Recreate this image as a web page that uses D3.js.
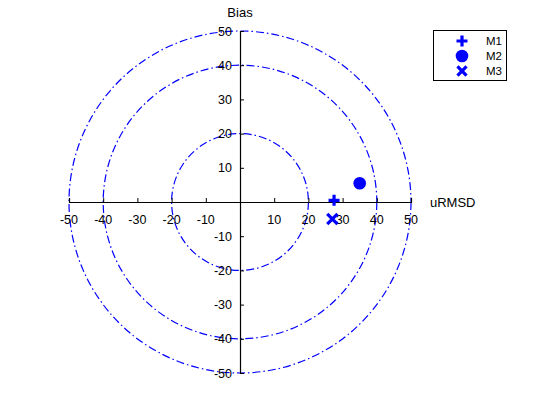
<!DOCTYPE html>
<html><head><meta charset="utf-8">
<script src="https://cdn.jsdelivr.net/npm/d3@7"></script>
<style>body{margin:0;background:#fff}svg{display:block}text{font-family:"Liberation Sans",Arial,sans-serif}</style>
</head><body><svg id="c" width="560" height="420"></svg>
<script>
const models = ["M1","M2","M3"];
const urmsd = [27.5, 35, 27];
const bias = [0.5, 5.5, -5];
const symbols = ["plus","circle","cross"];
const radii = [20, 40, 50];
const ticks = [-50,-40,-30,-20,-10,0,10,20,30,40,50];
const tickLabels = ["-50","-40","-30","-20","-10","","10","20","30","40","50"];

const svg = d3.select("#c");
const cx = 240, cy = 202, R = 171;
const x = d3.scaleLinear().domain([-50,50]).range([cx-R, cx+R]);
const y = d3.scaleLinear().domain([-50,50]).range([cy+R, cy-R]);
const blue = "#0000ff";

svg.selectAll("circle.ring").data(radii).enter().append("circle")
  .attr("class","ring").attr("cx", x(0)).attr("cy", y(0))
  .attr("r", d => x(d)-x(0))
  .attr("fill","none").attr("stroke",blue).attr("stroke-width",1.2)
  .attr("stroke-dasharray","8,3,1.5,3");

const xAxis = d3.axisTop(x).tickValues(ticks).tickSize(4).tickFormat("");
const gx = svg.append("g").attr("transform",`translate(0,${y(0)})`).call(xAxis);
const yAxis = d3.axisRight(y).tickValues(ticks).tickSize(4).tickFormat("");
const gy = svg.append("g").attr("transform",`translate(${x(0)},0)`).call(yAxis);
[gx,gy].forEach(g=>{g.select(".domain").attr("stroke","#000").attr("stroke-width",1.2);
  g.selectAll(".tick line").attr("stroke","#000");});

svg.append("g").selectAll("text").data(ticks).enter().append("text")
  .attr("x", d=>x(d)).attr("y", y(0)+22).attr("text-anchor","middle")
  .attr("font-size",12.5).text((d,i)=>tickLabels[i]);
svg.append("g").selectAll("text").data(ticks).enter().append("text")
  .attr("x", x(0)-8).attr("y", d=>y(d)+4.5).attr("text-anchor","end")
  .attr("font-size",12.5).text((d,i)=>tickLabels[i]);

svg.append("text").attr("x", x(0)).attr("y", 17).attr("text-anchor","middle").attr("font-size",13).text("Bias");
svg.append("text").attr("x", 430).attr("y", y(0)+5).attr("font-size",13).text("uRMSD");

function marker(sel, s, size){
  if(s==="cross"){
    sel.append("path").attr("d", d3.symbol(d3.symbolX, size).size(size)())
      .attr("fill","none").attr("stroke",blue).attr("stroke-width",3.2);
  } else if(s==="plus"){
    const h=5.5;
    sel.append("path").attr("d",`M${-h},0H${h}M0,${-h}V${h}`).attr("stroke",blue).attr("stroke-width",3.2).attr("fill","none");
  } else {
    sel.append("circle").attr("r",6.3).attr("fill",blue);
  }
}
models.forEach((m,i)=>{
  const g = svg.append("g").attr("transform",`translate(${x(urmsd[i])},${y(bias[i])})`);
  marker(g, symbols[i], 70);
});

const lg = svg.append("g");
lg.append("rect").attr("x",433.5).attr("y",30.5).attr("width",73).attr("height",50)
  .attr("fill","#fff").attr("stroke","#000");
models.forEach((m,i)=>{
  const yy = 41 + i*15;
  const g = lg.append("g").attr("transform",`translate(462,${yy})`);
  marker(g, symbols[i], 55);
  lg.append("text").attr("x",486).attr("y",yy+4).attr("font-size",11.5).text(m);
});
</script></body></html>
